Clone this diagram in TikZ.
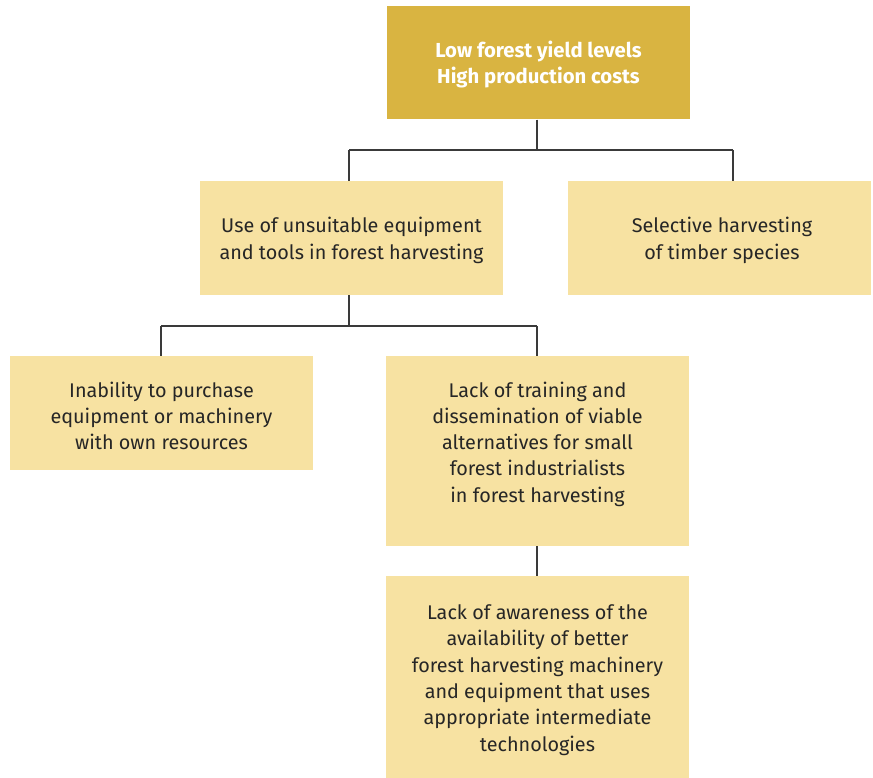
\documentclass[tikz,border=0pt]{standalone}
\usepackage{fontspec}
\setmainfont{Fira Sans}
\definecolor{gold}{HTML}{D9B441}
\definecolor{pale}{HTML}{F7E2A2}
\definecolor{linec}{HTML}{3A3A3A}
\begin{document}
\begin{tikzpicture}[x=1pt,y=-1pt,
  box/.style={fill=pale,draw=none,inner sep=0pt,minimum width=303pt},
  txt/.style={inner sep=0pt,align=center,font=\fontsize{19.8}{26.3}\selectfont,text=black!85},
  toptxt/.style={txt,text=white,font=\fontsize{20.3}{26.5}\selectfont\bfseries},
  conn/.style={draw=linec,line width=1.3pt}]
\useasboundingbox (0,0) rectangle (873,778);
\node[box,fill=gold,minimum height=113.5pt] (top) at (538.5,62.75) {};
\node[toptxt] (topt) at (538.5,64.5) {Low forest yield levels\\High production costs};
\node[box,minimum height=114pt] (use) at (351.5,238) {};
\node[txt] (uset) at (351.5,240.5) {Use of unsuitable equipment\\and tools in forest harvesting};
\node[box,minimum height=114pt] (sel) at (719.5,238) {};
\node[txt] (selt) at (722,240.5) {Selective harvesting\\of timber species};
\node[box,minimum height=114pt] (inab) at (161.5,413) {};
\node[txt] (inabt) at (161.5,416) {Inability to purchase\\equipment or machinery\\with own resources};
\node[box,minimum height=190pt] (train) at (537.5,451) {};
\node[txt] (traint) at (537.5,444) {Lack of training and\\dissemination of viable\\alternatives for small\\forest industrialists\\in forest harvesting};
\node[box,minimum height=202pt] (aware) at (537.5,677) {};
\node[txt] (awaret) at (537.5,680) {Lack of awareness of the\\availability of better\\forest harvesting machinery\\and equipment that uses\\appropriate intermediate\\technologies};
\coordinate (j1) at (537,150);
\coordinate (j2) at (349,326);
\draw[conn] (top.south -| j1) -- (j1);
\draw[conn] (j1 -| 349,0) -- (j1 -| 733,0);
\draw[conn] (j1 -| 349,0) -- (use.north -| 349,0);
\draw[conn] (j1 -| 733,0) -- (sel.north -| 733,0);
\draw[conn] (use.south -| j2) -- (j2);
\draw[conn] (j2 -| 161,0) -- (j2 -| 537,0);
\draw[conn] (j2 -| 161,0) -- (inab.north -| 161,0);
\draw[conn] (j2 -| 537,0) -- (train.north -| 537,0);
\draw[conn] (train.south -| 537,0) -- (aware.north -| 537,0);
\end{tikzpicture}
\end{document}
